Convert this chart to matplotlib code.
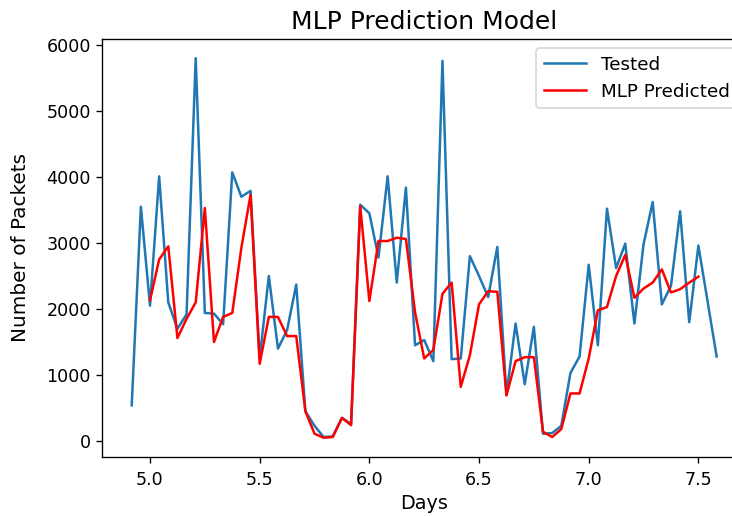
import numpy as np
from matplotlib import pyplot as plt

# hourly samples, x in days
tested_hours = np.arange(118, 183)
predicted_hours = np.arange(120, 181)

tested = [540, 3550, 2050, 4010, 2100, 1700, 1920, 5800, 1940, 1930,
          1770, 4070, 3700, 3790, 1250, 2500, 1400, 1680, 2370, 450,
          230, 60, 70, 350, 260, 3580, 3450, 2780, 4010, 2400,
          3840, 1450, 1530, 1210, 5760, 1240, 1250, 2800, 2500, 2180,
          2940, 700, 1780, 860, 1730, 110, 120, 230, 1030, 1280,
          2670, 1450, 3520, 2620, 2990, 1780, 2980, 3620, 2070, 2350,
          3480, 1800, 2960, 2120, 1280]

predicted = [2130, 2750, 2950, 1560, 1850, 2100, 3530, 1500, 1880, 1940,
             2930, 3730, 1170, 1880, 1880, 1590, 1590, 450, 110, 50,
             60, 350, 240, 3560, 2120, 3030, 3030, 3080, 3060, 1950,
             1250, 1380, 2230, 2400, 820, 1300, 2070, 2270, 2260, 690,
             1210, 1270, 1270, 140, 60, 180, 720, 720, 1250, 1980,
             2030, 2500, 2820, 2170, 2310, 2400, 2600, 2250, 2300, 2400,
             2490]

fig = plt.figure(figsize=(6.1, 4.3), dpi=120)
# the original screenshot is cut on the right, so the axes run past the edge
ax = fig.add_axes([0.140, 0.115, 0.879, 0.809])
ax.plot(tested_hours / 24, tested, label='Tested')
ax.plot(predicted_hours / 24, predicted, color='red', label='MLP Predicted')
ax.set_title('MLP Prediction Model', fontsize=15)
ax.set_xlabel('Days', fontsize=11.5, labelpad=3)
ax.set_ylabel('Number of Packets', fontsize=12, labelpad=10)
ax.tick_params(labelsize=10.5)
ax.tick_params(axis='x', pad=5)
ax.legend(loc='upper right', fontsize=11, handlelength=2.3)
fig.savefig('out.png', dpi=120)
